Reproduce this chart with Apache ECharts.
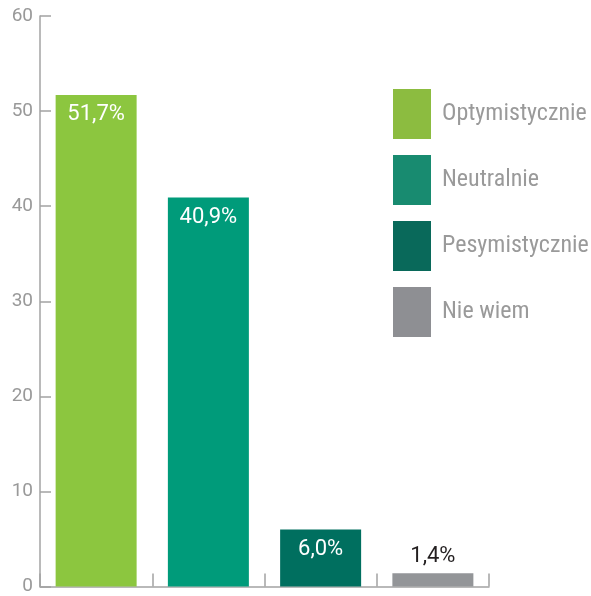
<!DOCTYPE html>
<html>
<head>
<meta charset="utf-8">
<script src="https://cdn.jsdelivr.net/npm/echarts@6/dist/echarts.min.js"></script>
<style>html,body{margin:0;padding:0;background:#fff}#c{width:591px;height:596px}</style>
</head>
<body>
<div id="c"></div>
<script>
const categories = ['Optymistycznie', 'Neutralnie', 'Pesymistycznie', 'Nie wiem'];
const values = [51.7, 40.9, 6.0, 1.4];
const barColors = ['#8cc63f', '#009b7a', '#006f5f', '#939598'];
const legendColors = ['#8cbc40', '#188b70', '#09695a', '#8e8f93'];
const yTicks = [0, 10, 20, 30, 40, 50, 60];

const FONT = 'Roboto, "Liberation Sans", sans-serif';
const NARROW = '"Liberation Sans Narrow", "Roboto Condensed", Roboto, sans-serif';
const chart = echarts.init(document.getElementById('c'));
const series = categories.map((name, i) => ({
  name: name,
  type: 'bar',
  barWidth: 81,
  barGap: '-100%',
  itemStyle: { color: barColors[i] },
  data: values.map((v, j) => (j === i ? v : '-')),
  label: {
    show: true,
    position: i === 3 ? 'top' : 'insideTop',
    distance: i === 3 ? 6 : 9,
    color: i === 3 ? '#231f20' : '#ffffff',
    fontFamily: FONT,
    fontSize: 22,
    fontWeight: 400,
    formatter: p => p.value.toFixed(1).replace('.', ',') + '%'
  }
}));

chart.setOption({
  animation: false,
  grid: { left: 40, right: 102, top: 16, bottom: 8, containLabel: false },
  xAxis: {
    type: 'category',
    data: categories,
    boundaryGap: true,
    axisLine: { show: true, lineStyle: { color: '#a3a3a3', width: 1.5 } },
    axisTick: { show: true, inside: true, length: 13, alignWithLabel: false, lineStyle: { color: '#a3a3a3', width: 1.5 } },
    axisLabel: { show: false },
    splitLine: { show: false }
  },
  yAxis: {
    type: 'value',
    min: yTicks[0],
    max: yTicks[yTicks.length - 1],
    interval: 10,
    axisLine: { show: true, lineStyle: { color: '#a3a3a3', width: 1.5 } },
    axisTick: { show: true, inside: true, length: 11, lineStyle: { color: '#a3a3a3', width: 1.5 } },
    axisLabel: { show: true, margin: 7, color: '#999999', fontFamily: FONT, fontSize: 19, fontWeight: 400 },
    splitLine: { show: false }
  },
  legend: {
    orient: 'vertical',
    left: 388,
    top: 84,
    itemWidth: 38,
    itemHeight: 50,
    itemGap: 16,
    icon: 'rect',
    selectedMode: false,
    textStyle: { color: '#9a9a9a', fontFamily: NARROW, fontSize: 24, fontWeight: 400, padding: [3, 0, 0, 6] },
    data: categories.map((n, i) => ({ name: n, itemStyle: { color: legendColors[i] } }))
  },
  series: series
});
</script>
</body>
</html>
